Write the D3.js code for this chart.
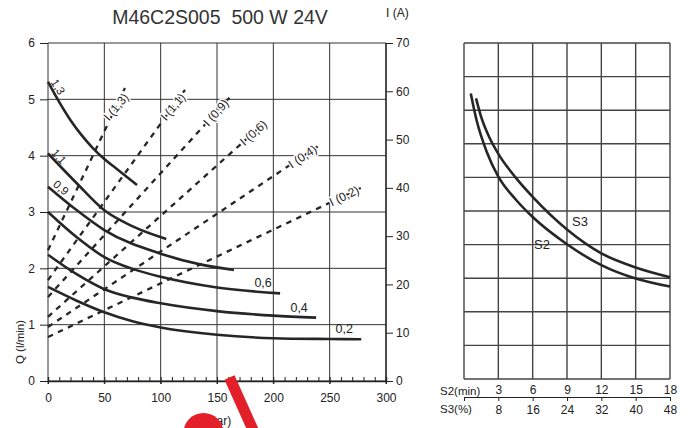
<!DOCTYPE html>
<html>
<head>
<meta charset="utf-8">
<script src="https://cdn.jsdelivr.net/npm/d3@7"></script>
<style>
  body { margin: 0; background: #fff; }
  svg text { font-family: "Liberation Sans", Arial, sans-serif; fill: #222; }
</style>
</head>
<body>
<svg id="chart" width="689" height="428"></svg>
<script>
// ---- data ----
const title = "M46C2S005  500 W 24V";
const pTicks = [0, 50, 100, 150, 200, 250, 300];
const qTicks = [0, 1, 2, 3, 4, 5, 6];
const iTicks = [0, 10, 20, 30, 40, 50, 60, 70];

// Q (l/min) against P (bar), one curve per speed
const flowLabels = ["1,3", "1,1", "0,9", "0,6", "0,4", "0,2"];
const flow13 = [[0, 5.31], [10, 4.95], [20, 4.63], [30, 4.36], [40, 4.13], [50, 3.94], [60, 3.78], [79, 3.48]];
const flow11 = [[0, 4.04], [25.5, 3.51], [50, 3.03], [75.7, 2.74], [105, 2.52]];
const flow09 = [[0, 3.45], [25, 3.04], [50, 2.68], [100, 2.26], [135, 2.07], [165, 1.97]];
const flow06 = [[0, 3.0], [25, 2.56], [50, 2.2], [75, 1.99], [100, 1.85], [150, 1.66], [206, 1.555]];
const flow04 = [[0, 2.24], [25, 1.9], [50, 1.63], [75, 1.48], [100, 1.38], [150, 1.24], [200, 1.16], [238, 1.125]];
const flow02 = [[0, 1.67], [25, 1.43], [50, 1.22], [75, 1.06], [100, 0.95], [150, 0.82], [200, 0.76], [250, 0.745], [278, 0.74]];
const flowCurves = [flow13, flow11, flow09, flow06, flow04, flow02];

// I (A) against P (bar), straight dashed lines
const currentLabels = ["I (1,3)", "I (1,1)", "I (0,9)", "I (0,6)", "I (0,4)", "I (0,2)"];
const currentStartI = [27.1, 20.9, 17.4, 13.3, 11.2, 9.1];
const currentEndP = [68.3, 121.6, 161.5, 196.2, 241.4, 279.6];
const currentEndI = [60.7, 60.3, 58.8, 54.3, 48.9, 40.2];

// duty chart
const s2Ticks = [3, 6, 9, 12, 15, 18];
const s3Ticks = [8, 16, 24, 32, 40, 48];
const dutyRows = [0, 1, 2, 3, 4, 5, 6, 7, 8, 9, 10];
const dutyS2 = [[0.59, 8.5], [1.1, 7.7], [2.0, 6.75], [3, 6.02], [4.5, 5.35], [6, 4.82], [9, 4.01], [12, 3.39], [15, 2.99], [18, 2.75]];
const dutyS3 = [[1.05, 8.35], [1.5, 7.8], [2.2, 7.2], [3, 6.7], [4.5, 6.0], [6, 5.42], [9, 4.45], [12, 3.74], [15, 3.32], [18, 3.03]];

const svg = d3.select("#chart");
const ink = "#262626";

// ---- left chart ----
const x = d3.scaleLinear().domain([0, 300]).range([48, 386]);
const yQ = d3.scaleLinear().domain([0, 6]).range([381, 43]);
const yI = d3.scaleLinear().domain([0, 70]).range([381, 43]);

svg.append("text").attr("x", 220).attr("y", 24).attr("text-anchor", "middle")
  .style("font-size", "19.5px").style("white-space", "pre").style("fill", "#333").text(title);
svg.append("text").attr("x", 386).attr("y", 17).style("font-size", "12px").text("I (A)");

// grid
svg.append("g").selectAll("line").data(pTicks).join("line")
  .attr("x1", d => x(d)).attr("x2", d => x(d)).attr("y1", yQ(6)).attr("y2", yQ(0) + 3)
  .attr("stroke", "#333").attr("stroke-width", 1);
svg.append("g").selectAll("line").data(qTicks).join("line")
  .attr("x1", x(0)).attr("x2", x(300)).attr("y1", d => yQ(d)).attr("y2", d => yQ(d))
  .attr("stroke", "#333").attr("stroke-width", 1);

function styleAxis(g, size) {
  g.attr("font-size", null).attr("font-family", null).attr("color", "#222");
  g.selectAll("text").style("font-size", size);
  g.select(".domain").remove();
}

svg.append("g").attr("transform", "translate(48,0)")
  .call(d3.axisLeft(yQ).tickValues(qTicks).tickFormat(d3.format("d")).tickSize(8).tickPadding(5))
  .call(g => styleAxis(g, "12px"));

svg.append("g").attr("transform", "translate(386,0)")
  .call(d3.axisRight(yI).tickValues(iTicks).tickSize(7).tickPadding(3))
  .call(g => styleAxis(g, "12px"));
svg.append("line").attr("x1", 386).attr("x2", 386).attr("y1", 43).attr("y2", 381)
  .attr("stroke", "#222").attr("stroke-width", 1.3);

svg.append("g").attr("transform", "translate(0,381)")
  .call(d3.axisBottom(x).tickValues(pTicks).tickSize(3).tickPadding(9))
  .call(g => styleAxis(g, "12px"));
svg.append("g").attr("transform", "translate(0,381)")
  .call(d3.axisBottom(x).tickValues(d3.range(0, 301, 10)).tickSize(-4).tickFormat(""))
  .call(g => g.attr("color", "#222"))
  .call(g => g.select(".domain").attr("stroke-width", 1.4));

svg.append("text").attr("x", 213).attr("y", 425).attr("text-anchor", "middle")
  .style("font-size", "12px").text("P (bar)");
svg.append("text").attr("transform", "translate(24,342) rotate(-90)").attr("text-anchor", "middle")
  .style("font-size", "11.5px").text("Q (l/min)");

// current lines (dashed)
const currentLine = d3.line().x(d => x(d[0])).y(d => yI(d[1]));
currentLabels.forEach((lab, i) => {
  const pts = [[0, currentStartI[i]], [currentEndP[i], currentEndI[i]]];
  svg.append("path").attr("d", currentLine(pts)).attr("fill", "none")
    .attr("stroke", ink).attr("stroke-width", 2.3).attr("stroke-dasharray", "5.5,5.5");
  const x0 = x(0), y0 = yI(currentStartI[i]), x1 = x(currentEndP[i]), y1 = yI(currentEndI[i]);
  const len = Math.hypot(x1 - x0, y1 - y0);
  const ux = (x1 - x0) / len, uy = (y1 - y0) / len;
  const cx = x1 - ux * 21, cy = y1 - uy * 21;
  let ang = Math.atan2(uy, ux) * 180 / Math.PI;
  ang = Math.max(ang, -50);
  svg.append("text").attr("transform", `translate(${cx},${cy}) rotate(${ang})`)
    .attr("text-anchor", "middle").attr("dy", "0.35em")
    .style("font-size", "12px").style("white-space", "pre")
    .style("stroke", "#fff").style("stroke-width", 3).style("paint-order", "stroke")
    .text(lab);
});

// flow curves (solid)
const flowLine = d3.line().x(d => x(d[0])).y(d => yQ(d[1])).curve(d3.curveMonotoneX);
flowCurves.forEach(c => {
  svg.append("path").attr("d", flowLine(c)).attr("fill", "none")
    .attr("stroke", ink).attr("stroke-width", 2.6);
});

// labels of the flow curves
const startOffsets = [[10, 5, 58], [11, 3, 48], [13, 1, 40]];
startOffsets.forEach((o, i) => {
  const c = flowCurves[i];
  svg.append("text")
    .attr("transform", `translate(${x(c[0][0]) + o[0]},${yQ(c[0][1]) + o[1]}) rotate(${o[2]})`)
    .attr("text-anchor", "middle").attr("dy", "0.35em").style("font-size", "11.5px")
    .text(flowLabels[i]);
});
[3, 4, 5].forEach(i => {
  const last = flowCurves[i][flowCurves[i].length - 1];
  svg.append("text").attr("x", x(last[0]) - 17).attr("y", yQ(last[1]) - 6)
    .attr("text-anchor", "middle").style("font-size", "12.5px").text(flowLabels[i]);
});

// ---- right chart ----
const xS2 = d3.scaleLinear().domain([0, 18]).range([464, 670]);
const xS3 = d3.scaleLinear().domain([0, 48]).range([464, 670]);
const yD = d3.scaleLinear().domain([0, 10]).range([379, 43]);

svg.append("g").selectAll("line").data([0, ...s2Ticks]).join("line")
  .attr("x1", d => xS2(d)).attr("x2", d => xS2(d)).attr("y1", yD(10)).attr("y2", yD(0))
  .attr("stroke", "#444").attr("stroke-width", 1.4);
svg.append("g").selectAll("line").data(dutyRows).join("line")
  .attr("x1", xS2(0)).attr("x2", xS2(18)).attr("y1", d => yD(d)).attr("y2", d => yD(d))
  .attr("stroke", "#444").attr("stroke-width", 1.4);

svg.append("g").attr("transform", "translate(0,397)")
  .call(d3.axisBottom(xS3).tickValues([0, ...s3Ticks]).tickSize(4).tickPadding(4)
    .tickSizeOuter(0).tickFormat(d => d === 0 ? "" : d))
  .call(g => g.attr("font-size", null).attr("font-family", null).attr("color", "#222"))
  .call(g => g.selectAll("text").style("font-size", "12px"));
svg.append("g").attr("transform", "translate(0,397)")
  .call(d3.axisTop(xS2).tickValues(s2Ticks).tickSize(0).tickPadding(3))
  .call(g => styleAxis(g, "12px"));
svg.append("text").attr("x", 440).attr("y", 395).style("font-size", "11.5px").text("S2(min)");
svg.append("text").attr("x", 440).attr("y", 413).style("font-size", "11.5px").text("S3(%)");

const dutyLine = d3.line().x(d => xS2(d[0])).y(d => yD(d[1])).curve(d3.curveMonotoneX);
[dutyS2, dutyS3].forEach(c => {
  svg.append("path").attr("d", dutyLine(c)).attr("fill", "none")
    .attr("stroke", ink).attr("stroke-width", 2.6);
});
svg.append("text").attr("x", 534).attr("y", 249).style("font-size", "13px").text("S2");
svg.append("text").attr("x", 572).attr("y", 226).style("font-size", "13px").text("S3");

// red marks drawn over the picture
svg.append("line").attr("x1", 229.5).attr("y1", 377.5).attr("x2", 262).attr("y2", 450)
  .attr("stroke", "#e3202a").attr("stroke-width", 11);
svg.append("circle").attr("cx", 203.5).attr("cy", 433).attr("r", 20).attr("fill", "#e3202a");
</script>
</body>
</html>
